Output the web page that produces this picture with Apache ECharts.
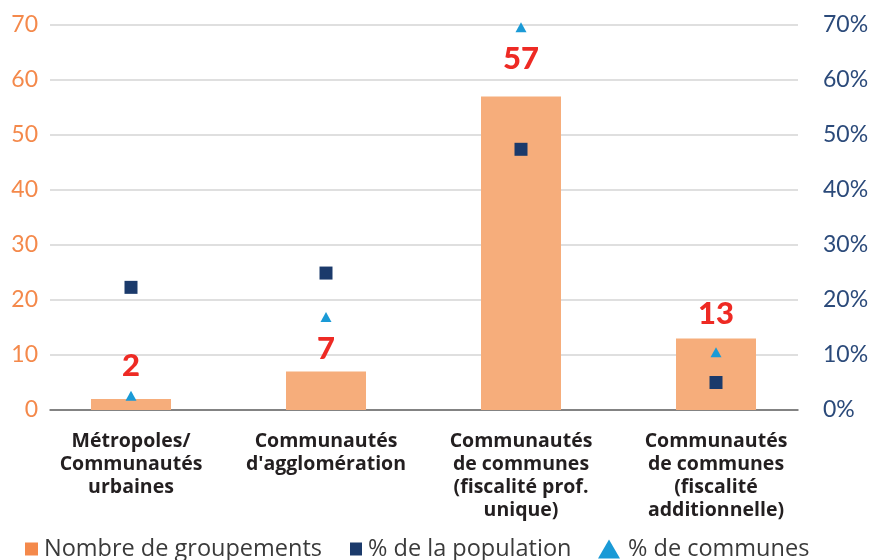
<!DOCTYPE html>
<html>
<head>
<meta charset="utf-8">
<script src="https://cdn.jsdelivr.net/npm/echarts@6/dist/echarts.min.js"></script>
<style>
  html, body { margin: 0; padding: 0; background: #ffffff; }
  #chart { width: 889px; height: 560px; }
</style>
</head>
<body>
<div id="chart"></div>
<script>
// ---- data ----
const categories = [
  "Métropoles/\nCommunautés\nurbaines",
  "Communautés\nd'agglomération",
  "Communautés\nde communes\n(fiscalité prof.\nunique)",
  "Communautés\nde communes\n(fiscalité\nadditionnelle)"
];
const nombreGroupements = [2, 7, 57, 13];
const pctPopulation = [0.223, 0.249, 0.474, 0.050];
const pctCommunes = [0.026, 0.169, 0.696, 0.105];
const leftTicks = [0, 10, 20, 30, 40, 50, 60, 70];
const rightTicks = [0, 0.1, 0.2, 0.3, 0.4, 0.5, 0.6, 0.7];
const seriesNames = ["Nombre de groupements", "% de la population", "% de communes"];

// ---- styles ----
const labelGaps = [18, 7, 22, 9];
const ORANGE_BAR = '#f6ad7b';
const ORANGE_LEG = '#f4894b';
const NAVY = '#1b3a6b';
const BLUE = '#1a9ad6';
const RED = '#ee2a24';
const FONT = 'Lato, "Open Sans", sans-serif';
const LEGFONT = '"Open Sans", Lato, sans-serif';

const chart = echarts.init(document.getElementById('chart'), null, { renderer: 'canvas' });

const legendText = (padL) => ({
  color: '#3a3a3a', fontFamily: LEGFONT, fontSize: 23.5, padding: [0, 0, 8, padL]
});

const option = {
  backgroundColor: '#ffffff',
  animation: false,
  grid: [
    { left: 33.5, right: 75.5, top: 25, bottom: 150 },   // marks
    { left: 50, right: 91, top: 25, bottom: 150 }        // axes & gridlines
  ],
  xAxis: [
    {
      type: 'category', gridIndex: 0, data: categories,
      axisLine: { show: false }, axisTick: { show: false },
      axisLabel: {
        interval: 0, margin: 20, color: '#231f20', fontFamily: '"Open Sans", Lato, sans-serif',
        fontWeight: 'bold', fontSize: 19.5, lineHeight: 23
      }
    },
    {
      type: 'value', gridIndex: 1, min: 0, max: 1,
      axisLine: { show: true, lineStyle: { color: '#666666', width: 1.5 } },
      axisTick: { show: false }, axisLabel: { show: false }, splitLine: { show: false }
    }
  ],
  yAxis: [
    {
      type: 'value', gridIndex: 1, position: 'left', min: leftTicks[0], max: leftTicks[leftTicks.length - 1], interval: leftTicks[1] - leftTicks[0],
      axisLine: { show: false }, axisTick: { show: false },
      axisLabel: { margin: 12, color: ORANGE_LEG, fontFamily: FONT, fontSize: 23 },
      splitLine: { show: true, lineStyle: { color: '#d4d4d4', width: 1.5 } }
    },
    {
      type: 'value', gridIndex: 1, position: 'right', min: rightTicks[0], max: rightTicks[rightTicks.length - 1], interval: rightTicks[1] - rightTicks[0],
      axisLine: { show: false }, axisTick: { show: false },
      axisLabel: { margin: 25, color: '#2b4a7a', fontFamily: FONT, fontSize: 23,
        formatter: v => Math.round(v * 100) + '%' },
      splitLine: { show: false }
    },
    {
      type: 'value', gridIndex: 0, min: leftTicks[0], max: leftTicks[leftTicks.length - 1],
      show: false, splitLine: { show: false }
    },
    {
      type: 'value', gridIndex: 0, min: rightTicks[0], max: rightTicks[rightTicks.length - 1],
      show: false, splitLine: { show: false }
    }
  ],
  legend: [
    {
      left: 25, top: 537, padding: 0, itemWidth: 13, itemHeight: 13, icon: 'rect',
      data: [{ name: seriesNames[0], itemStyle: { color: ORANGE_LEG } }],
      textStyle: legendText(1)
    },
    {
      left: 350, top: 537, padding: 0, itemWidth: 12, itemHeight: 13, icon: 'rect',
      data: [{ name: seriesNames[1], itemStyle: { color: NAVY, opacity: 1 } }],
      textStyle: legendText(1)
    },
    {
      left: 598, top: 537, padding: 0, itemWidth: 22, itemHeight: 19, icon: 'triangle',
      data: [{ name: seriesNames[2], itemStyle: { color: BLUE, opacity: 1 } }],
      textStyle: { color: '#3a3a3a', fontFamily: LEGFONT, fontSize: 23.5, padding: [0, 0, 0, 3] }
    }
  ],
  series: [
    {
      name: seriesNames[0], type: 'bar', xAxisIndex: 0, yAxisIndex: 2,
      barWidth: 80,
      itemStyle: { color: ORANGE_BAR },
      data: nombreGroupements.map((v, i) => ({
        value: v,
        label: { show: true, position: 'top', distance: labelGaps[i] }
      })),
      label: {
        show: true, position: 'top', color: RED, fontFamily: 'Lato, "Open Sans", sans-serif',
        fontWeight: 900, fontSize: 31
      },
      z: 2
    },
    {
      name: seriesNames[1], type: 'scatter', xAxisIndex: 0, yAxisIndex: 3,
      symbol: 'rect', symbolSize: 13,
      itemStyle: { color: NAVY, opacity: 1 },
      data: pctPopulation,
      z: 3
    },
    {
      name: seriesNames[2], type: 'scatter', xAxisIndex: 0, yAxisIndex: 3,
      symbol: 'triangle', symbolSize: [11, 10],
      itemStyle: { color: BLUE, opacity: 1 },
      data: pctCommunes,
      z: 3
    }
  ]
};

chart.setOption(option);
</script>
</body>
</html>
